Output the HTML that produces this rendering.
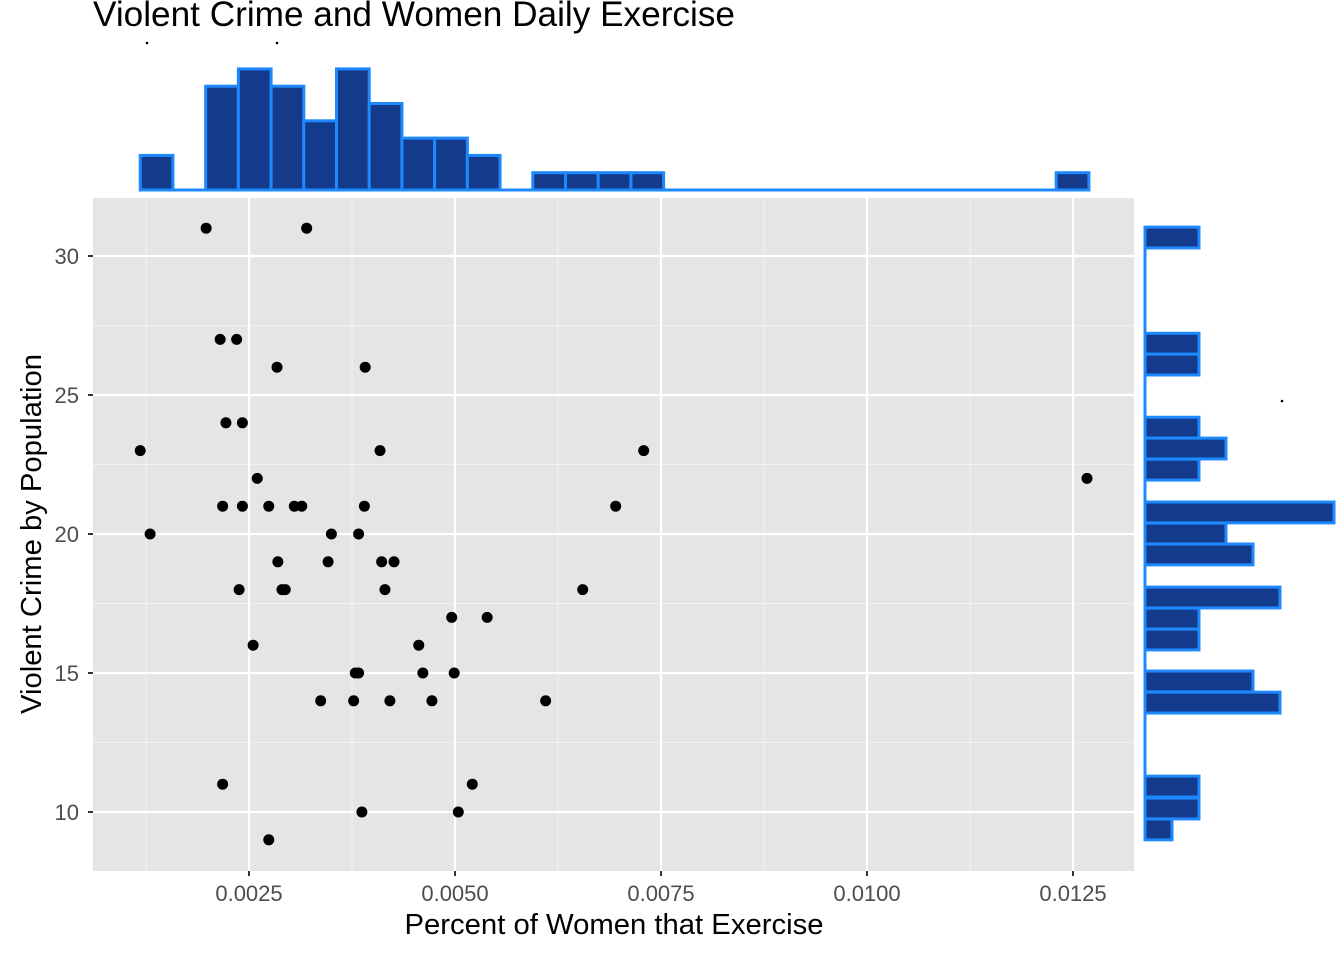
<!DOCTYPE html>
<html><head><meta charset="utf-8"><style>
html,body{margin:0;padding:0;background:#fff;}
svg{display:block;font-family:"Liberation Sans",Arial,sans-serif;}
</style></head><body>
<svg id="chart" width="1344" height="960" viewBox="0 0 1344 960" xmlns="http://www.w3.org/2000/svg">
<text x="93" y="26" font-size="35" fill="#000" textLength="642" lengthAdjust="spacingAndGlyphs">Violent Crime and Women Daily Exercise</text>
<rect x="93" y="198" width="1041" height="673" fill="#e5e5e5"/>
<g id="grid"></g>
<g id="ticks"></g>
<g id="points"></g>
<g id="tophist"></g>
<g id="righthist"></g>
<circle cx="147" cy="43" r="1.3" fill="#000"/>
<circle cx="277" cy="43" r="1.3" fill="#000"/>
<circle cx="1282" cy="401" r="1.3" fill="#000"/>
<text x="614" y="934" font-size="29" text-anchor="middle" fill="#000" textLength="419" lengthAdjust="spacingAndGlyphs">Percent of Women that Exercise</text>
<text transform="translate(41,534) rotate(-90)" font-size="29" text-anchor="middle" fill="#000" textLength="360" lengthAdjust="spacingAndGlyphs">Violent Crime by Population</text>
</svg>
<script>
const exercise = [0.00198,0.00320,0.00215,0.00235,0.00284,0.00391,0.00222,0.00242,0.00118,0.00409,0.00729,0.00260,0.01267,0.00218,0.00242,0.00274,0.00305,0.00314,0.00390,0.00695,0.00130,0.00350,0.00383,0.00285,0.00346,0.00411,0.00426,0.00238,0.00290,0.00294,0.00415,0.00655,0.00496,0.00539,0.00255,0.00456,0.00379,0.00383,0.00461,0.00499,0.00337,0.00377,0.00421,0.00472,0.00610,0.00218,0.00521,0.00387,0.00504,0.00274];
const crime = [31,31,27,27,26,26,24,24,23,23,23,22,22,21,21,21,21,21,21,21,20,20,20,19,19,19,19,18,18,18,18,18,17,17,16,16,15,15,15,15,14,14,14,14,14,11,11,10,10,9];
const xTicks = [0.0025,0.005,0.0075,0.01,0.0125];
const xTickLabels = ["0.0025","0.0050","0.0075","0.0100","0.0125"];
const yTicks = [10,15,20,25,30];
const yTickLabels = ["10","15","20","25","30"];
const topBinStart = 0.00118;
const topBinWidth = 0.000397;
const topCounts = [2,0,6,7,6,4,7,5,3,3,2,0,1,1,1,1,0,0,0,0,0,0,0,0,0,0,0,0,1];
const rightBinLo = [30.29,26.47,25.72,23.45,22.70,21.94,20.40,19.64,18.89,17.34,16.58,15.83,14.32,13.56,10.54,9.75,9.0];
const rightBinWidth = 0.75;
const rightCounts = [2,2,2,2,3,2,7,3,4,5,2,2,4,5,2,2,1];

const NS="http://www.w3.org/2000/svg";
const X = v => 249 + (v-0.0025)*82400;
const Y = v => 256 + (30-v)*27.8;
function mk(tag, attrs, parent){const e=document.createElementNS(NS,tag);for(const k in attrs)e.setAttribute(k,attrs[k]);parent.appendChild(e);return e;}

const grid=document.getElementById('grid');
[0.00125,0.00375,0.00625,0.00875,0.01125].forEach(v=>{
  const l=mk('line',{x1:X(v),x2:X(v),y1:198,y2:871,stroke:'#f2f2f2','stroke-width':1.1},grid);
  
  
});
[27.5,22.5,17.5,12.5].forEach(v=>{
  const l=mk('line',{x1:93,x2:1134,y1:Y(v),y2:Y(v),stroke:'#f2f2f2','stroke-width':1.1},grid);
  
  
});
const ticks=document.getElementById('ticks');
xTicks.forEach((v,i)=>{
  const l=mk('line',{x1:X(v),x2:X(v),y1:198,y2:871,stroke:'#fff','stroke-width':2.2},grid);
  
  
  const t=mk('line',{x1:X(v),x2:X(v),y1:871,y2:876,stroke:'#333','stroke-width':2},ticks);
  
  
  const tx=mk('text',{x:X(v),y:901,'font-size':22,'text-anchor':'middle',fill:'#4d4d4d'},ticks);
  tx.textContent=xTickLabels[i];
  
  
});
yTicks.forEach((v,i)=>{
  const l=mk('line',{x1:93,x2:1134,y1:Y(v),y2:Y(v),stroke:'#fff','stroke-width':2.2},grid);
  
  
  const t=mk('line',{x1:88,x2:93,y1:Y(v),y2:Y(v),stroke:'#333','stroke-width':2},ticks);
  
  
  const tx=mk('text',{x:79,y:Y(v)+8,'font-size':22,'text-anchor':'end',fill:'#4d4d4d'},ticks);
  tx.textContent=yTickLabels[i];
  
  
});
const pts=document.getElementById('points');
exercise.forEach((v,i)=>{
  const c=mk('circle',{cx:X(v),cy:Y(crime[i]),r:5.5,fill:'#000'},pts);
  
  
});
const th=document.getElementById('tophist');
const base=190, unitT=17.3;
const bl=mk('line',{x1:X(topBinStart),x2:X(topBinStart+topBinWidth*topCounts.length),y1:base,y2:base,stroke:'#1e88ff','stroke-width':3},th);


topCounts.forEach((c,i)=>{
  if(!c) return;
  const x0=X(topBinStart+i*topBinWidth), x1=X(topBinStart+(i+1)*topBinWidth);
  const r=mk('rect',{x:x0,y:base-c*unitT,width:x1-x0,height:c*unitT,fill:'#143a8c',stroke:'#1e88ff','stroke-width':3},th);
  
  
});
const rh=document.getElementById('righthist');
const left=1145, unitR=27;
const rl=mk('line',{x1:left,x2:left,y1:Y(31.03),y2:Y(9.0),stroke:'#1e88ff','stroke-width':3},rh);


rightCounts.forEach((c,i)=>{
  const y0=Y(rightBinLo[i]+rightBinWidth), y1=Y(rightBinLo[i]);
  const r=mk('rect',{x:left,y:y0,width:c*unitR,height:y1-y0,fill:'#143a8c',stroke:'#1e88ff','stroke-width':3},rh);
  
  
});
</script>
</body></html>
